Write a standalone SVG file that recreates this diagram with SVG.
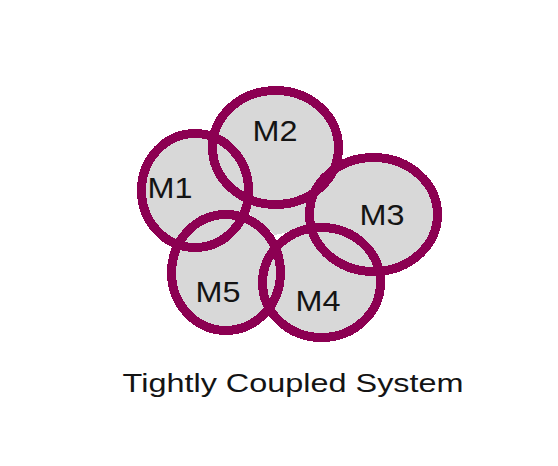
<svg xmlns="http://www.w3.org/2000/svg" width="558" height="466" viewBox="0 0 558 466">
  <style>
    .bg { fill: #d8d8d8; stroke: none; shape-rendering: crispEdges; }
    .ring { fill: none; stroke: #8c0052; stroke-width: 9; shape-rendering: crispEdges; }
    .lbl { font-family: "Liberation Sans", Arial, sans-serif; font-size: 30px; fill: #141414; }
    .title { font-family: "Liberation Sans", Arial, sans-serif; font-size: 26.5px; fill: #141414; }
  </style>
  <rect width="558" height="466" fill="#ffffff"/>
  <g id="fills">
    <ellipse class="bg" cx="195" cy="190.5" rx="53.5" ry="57"/>
    <ellipse class="bg" cx="275.5" cy="147.5" rx="63" ry="57"/>
    <ellipse class="bg" cx="373.5" cy="214.5" rx="64" ry="57"/>
    <ellipse class="bg" cx="321.5" cy="282.5" rx="59" ry="55"/>
    <ellipse class="bg" cx="226" cy="272.5" rx="54.5" ry="58"/>
    <polygon class="bg" points="245,195 275,200 315,200 320,225 275,235 250,215"/>
  </g>
  <g id="connectors"></g>
  <g id="M1">
    <ellipse class="ring" cx="195" cy="190.5" rx="53.5" ry="57"/>
    <text class="lbl" x="147.6" y="198" textLength="45" lengthAdjust="spacingAndGlyphs">M1</text>
  </g>
  <g id="M2">
    <ellipse class="ring" cx="275.5" cy="147.5" rx="63" ry="57"/>
    <text class="lbl" x="252.6" y="141" textLength="45" lengthAdjust="spacingAndGlyphs">M2</text>
  </g>
  <g id="M3">
    <ellipse class="ring" cx="373.5" cy="214.5" rx="64" ry="57"/>
    <text class="lbl" x="359.6" y="225" textLength="45" lengthAdjust="spacingAndGlyphs">M3</text>
  </g>
  <g id="M4">
    <ellipse class="ring" cx="321.5" cy="282.5" rx="59" ry="55"/>
    <text class="lbl" x="295.6" y="311" textLength="45" lengthAdjust="spacingAndGlyphs">M4</text>
  </g>
  <g id="M5">
    <ellipse class="ring" cx="226" cy="272.5" rx="54.5" ry="58"/>
    <text class="lbl" x="195.6" y="302" textLength="45" lengthAdjust="spacingAndGlyphs">M5</text>
  </g>
  <g id="caption">
    <text class="title" x="122.6" y="391.7" textLength="341" lengthAdjust="spacingAndGlyphs">Tightly Coupled System</text>
  </g>
</svg>
